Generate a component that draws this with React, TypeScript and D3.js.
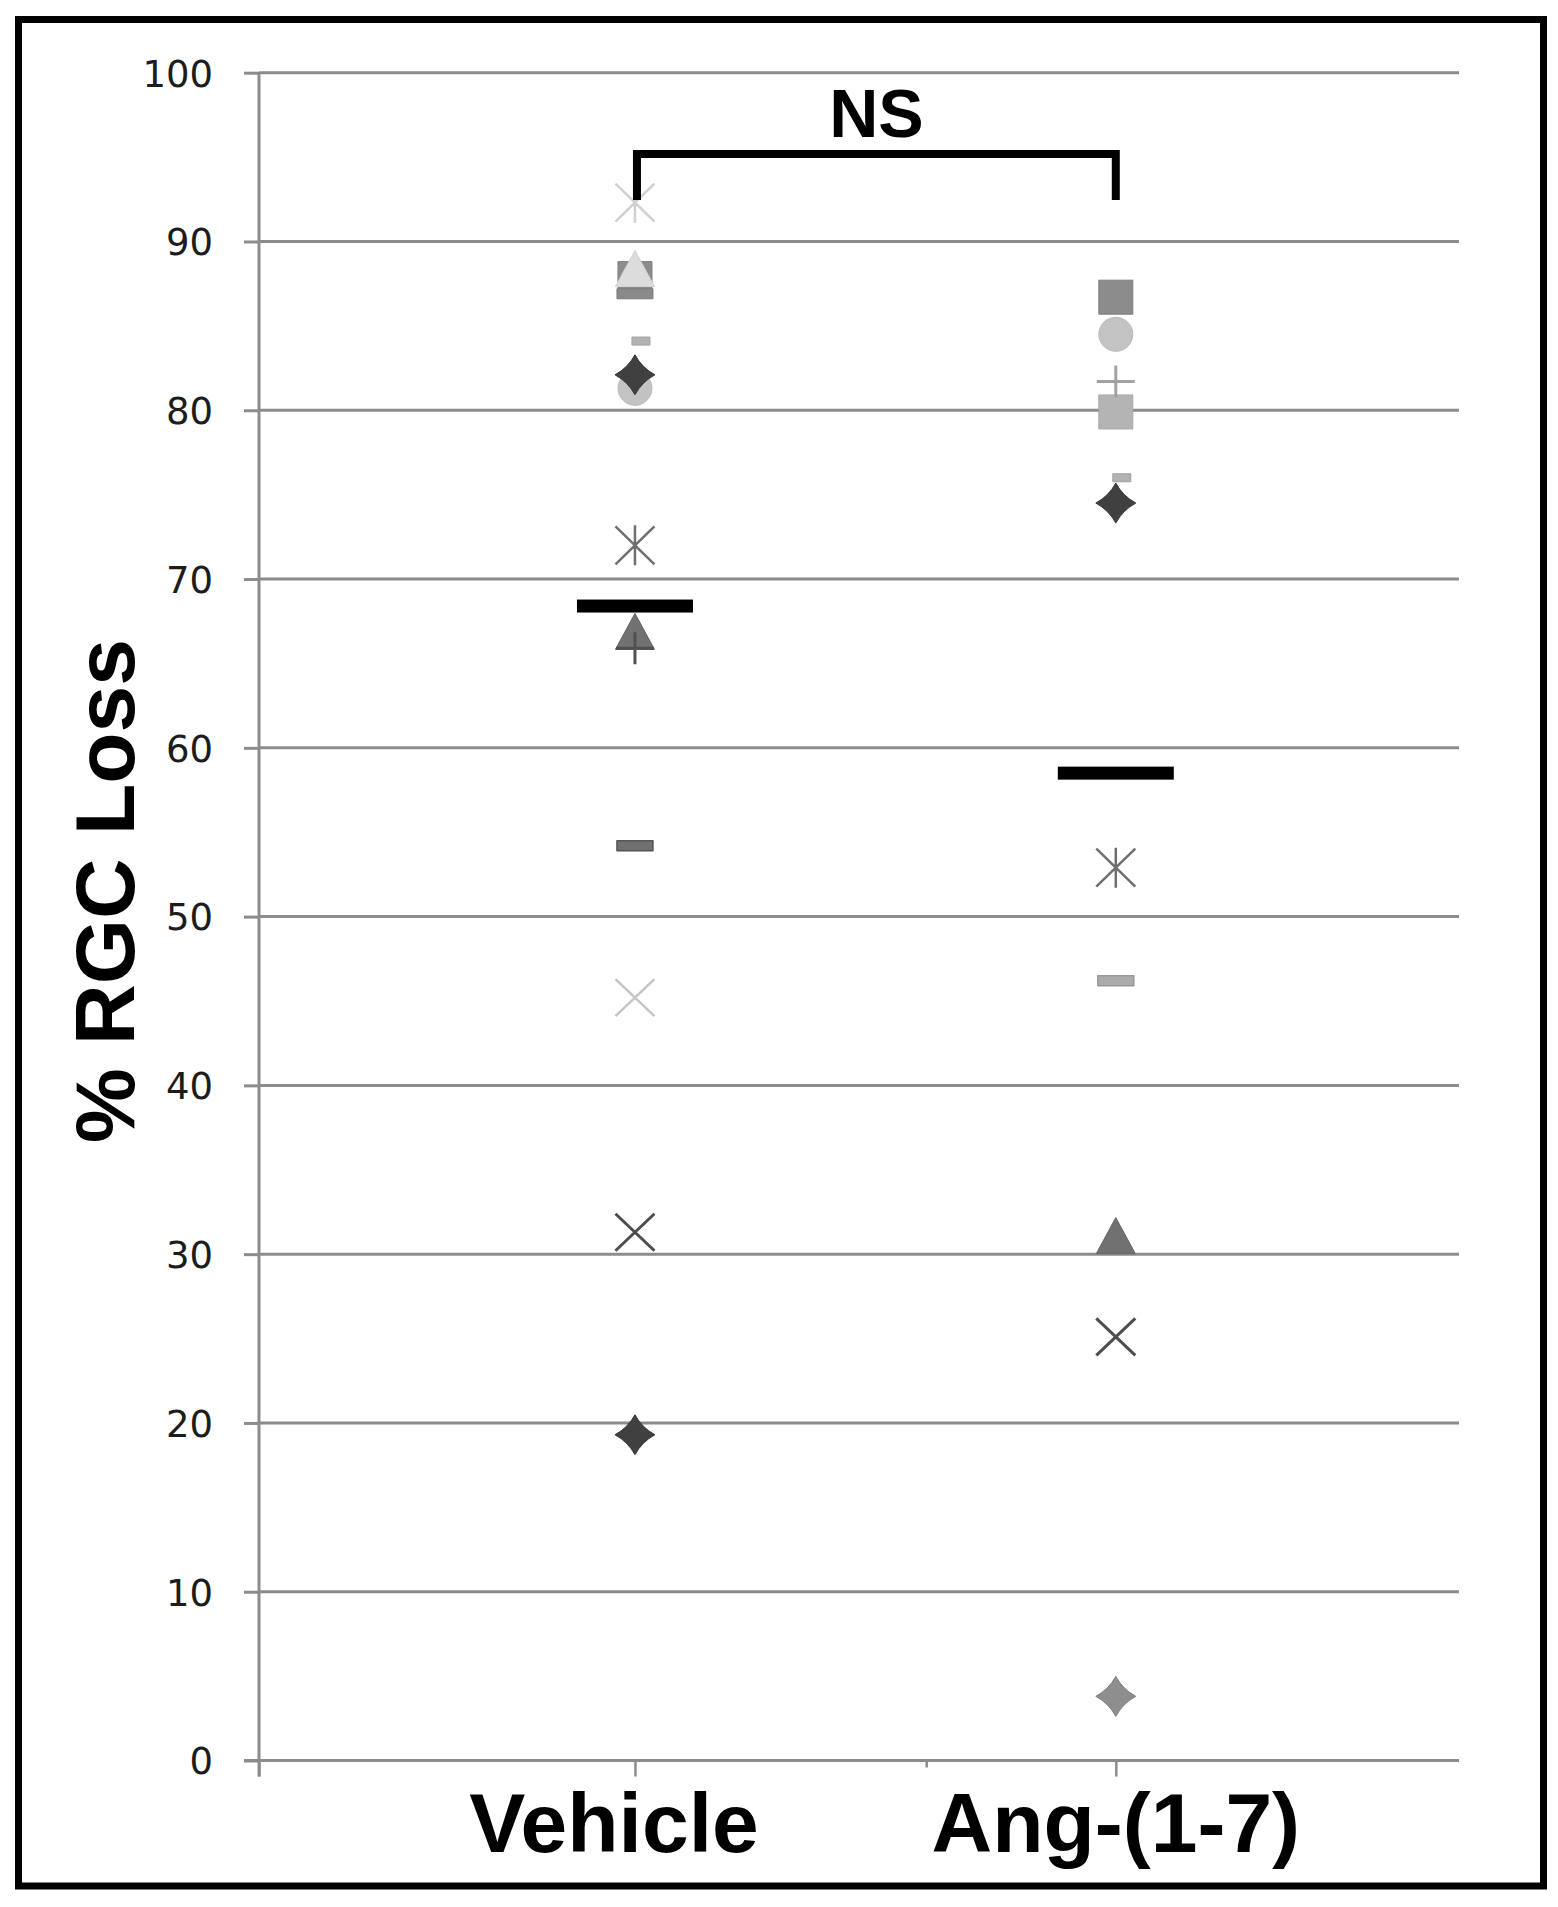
import { useEffect, useRef } from "react";
import * as d3 from "d3";

// values (% RGC loss per eye)
const groups = ["Vehicle", "Ang-(1-7)"];
const yTicks = [0, 10, 20, 30, 40, 50, 60, 70, 80, 90, 100];

const vehicleValues = [19.3, 31.3, 45.2, 54.2, 66.9, 65.9, 72.0, 81.3, 82.1, 84.1, 87.8, 88.4, 86.9, 92.3];
const vehicleMarkers = [
  "diamondDark", "xDark", "xLight", "dashDark", "triangleDark", "plusDark", "asteriskMid",
  "circleLight", "diamondDark", "smallDash", "squareMid", "triangleLight", "dashMid", "asteriskLight",
];

const angValues = [3.8, 25.1, 31.1, 46.2, 52.9, 74.5, 76.0, 79.9, 81.7, 84.5, 86.7];
const angMarkers = [
  "diamondGray", "xDark", "triangleDark", "dashLight", "asteriskMid", "diamondDark",
  "smallDash", "squareLight", "plusLight", "circleLight", "squareMid",
];

const groupMeans = [68.4, 58.5];
const sigLabel = "NS";

type Style = { shape: string; fill?: string; stroke?: string; sw?: number };
const markerStyles: Record<string, Style> = {
  diamondDark: { shape: "diamond", fill: "#404040", stroke: "#383838", sw: 1 },
  diamondGray: { shape: "diamond", fill: "#8e8e8e", stroke: "#808080", sw: 1 },
  squareMid: { shape: "square", fill: "#8c8c8c", stroke: "#7e7e7e", sw: 1 },
  squareLight: { shape: "square", fill: "#b4b4b4", stroke: "#a8a8a8", sw: 1 },
  circleLight: { shape: "circle", fill: "#c3c3c3", stroke: "#bbbbbb", sw: 1 },
  triangleLight: { shape: "triangle", fill: "#dcdcdc", stroke: "#d2d2d2", sw: 1 },
  triangleDark: { shape: "triangle", fill: "#717171", stroke: "#666666", sw: 1 },
  asteriskLight: { shape: "asterisk", stroke: "#d0d0d0", sw: 2.5 },
  asteriskMid: { shape: "asterisk", stroke: "#6e6e6e", sw: 2.5 },
  xLight: { shape: "x", stroke: "#c6c6c6", sw: 2.5 },
  xDark: { shape: "x", stroke: "#4e4e4e", sw: 3 },
  plusDark: { shape: "plus", stroke: "#505050", sw: 3 },
  plusLight: { shape: "plus", stroke: "#a2a2a2", sw: 3 },
  dashDark: { shape: "dash", fill: "#707070", stroke: "#555555", sw: 1.5 },
  dashMid: { shape: "dash", fill: "#8a8a8a", stroke: "#7a7a7a", sw: 1 },
  dashLight: { shape: "dash", fill: "#ababab", stroke: "#999999", sw: 1.5 },
  smallDash: { shape: "smallDash", fill: "#b2b2b2", stroke: "#a0a0a0", sw: 1 },
};

const shapePaths: Record<string, string> = {
  diamond: "M0,-20 Q7,-7 20,0 Q7,7 0,20 Q-7,7 -20,0 Q-7,-7 0,-20Z",
  square: "M-17,-17 H17 V17 H-17Z",
  triangle: "M0,-18 L19.5,18 L-19.5,18Z",
  asterisk: "M-19.5,-19 L19.5,19 M-19.5,19 L19.5,-19 M0,-20 V20",
  x: "M-19.5,-18.5 L19.5,18.5 M-19.5,18.5 L19.5,-18.5",
  plus: "M-19,0 H19 M0,-16 V16",
  dash: "M-18,-5 H18 V5 H-18Z",
  smallDash: "M-3,-4 H15 V4 H-3Z",
};

const W = 1558;
const H = 1907;

export default function App() {
  const svgRef = useRef<SVGSVGElement>(null);

  useEffect(() => {
    const svg = d3.select(svgRef.current);
    svg.selectAll("*").remove();

    const plotLeft = 259;
    const plotRight = 1459;
    const y = d3.scaleLinear().domain([0, 100]).range([1760.5, 72.7]);
    const x = d3.scaleLinear().domain([0, 1]).range([plotLeft, plotRight]);
    const catX = d3.scaleOrdinal<string, number>().domain(groups).range([x(0.3133), x(0.714)]);

    svg.append("rect").attr("width", W).attr("height", H).attr("fill", "#fff");

    // outer frame
    svg
      .append("rect")
      .attr("x", 18.5)
      .attr("y", 19.5)
      .attr("width", 1525)
      .attr("height", 1866.5)
      .attr("fill", "none")
      .attr("stroke", "#000")
      .attr("stroke-width", 7);

    // gridlines
    svg
      .append("g")
      .selectAll("line")
      .data(yTicks.filter((d) => d > 0))
      .enter()
      .append("line")
      .attr("x1", plotLeft)
      .attr("x2", plotRight)
      .attr("y1", (d) => y(d))
      .attr("y2", (d) => y(d))
      .attr("stroke", "#8c8c8c")
      .attr("stroke-width", 3);

    // y axis
    const yAxis = svg
      .append("g")
      .attr("transform", `translate(${plotLeft},0)`)
      .call(d3.axisLeft(y).tickValues(yTicks).tickSize(15).tickPadding(31).tickSizeOuter(0));
    yAxis.select(".domain").attr("stroke", "#8c8c8c").attr("stroke-width", 3)
      .attr("d", `M0,${y(100)}V${y(0) + 16}`);
    yAxis.selectAll(".tick line").attr("stroke", "#8c8c8c").attr("stroke-width", 3);
    yAxis
      .selectAll(".tick text")
      .attr("fill", "#1c1c1c")
      .attr("font-family", "'DejaVu Sans', Verdana, sans-serif")
      .attr("font-size", 37)
      .attr("dy", "0.36em");

    // x axis
    const xTickPos = [0, 0.3133, 0.556, 0.714];
    const xAxis = svg
      .append("g")
      .attr("transform", `translate(0,${y(0)})`)
      .call(d3.axisBottom(x).tickValues(xTickPos).tickSize(16).tickFormat(() => "").tickSizeOuter(0));
    xAxis.select(".domain").attr("stroke", "#8c8c8c").attr("stroke-width", 3)
      .attr("d", `M${plotLeft - 15},0H${plotRight}`);
    xAxis.selectAll(".tick line")
      .attr("stroke", "#8c8c8c")
      .attr("stroke-width", 2.5)
      .attr("y2", (d) => ((d as number) === 0.556 ? 7 : 16));

    // category labels
    const labelShift = [-21, 0];
    svg
      .append("g")
      .selectAll("text")
      .data(groups)
      .enter()
      .append("text")
      .attr("x", (d, i) => catX(d) + labelShift[i])
      .attr("y", 1852)
      .attr("text-anchor", "middle")
      .attr("font-family", "'Liberation Sans', Arial, sans-serif")
      .attr("font-weight", "bold")
      .attr("font-size", 84)
      .attr("fill", "#000")
      .text((d) => d);

    // y title
    svg
      .append("text")
      .attr("transform", `translate(134,891) rotate(-90)`)
      .attr("text-anchor", "middle")
      .attr("font-family", "'Liberation Sans', Arial, sans-serif")
      .attr("font-weight", "bold")
      .attr("font-size", 84)
      .attr("fill", "#000")
      .text("% RGC Loss");

    // points
    const series = [
      { group: groups[0], values: vehicleValues, markers: vehicleMarkers },
      { group: groups[1], values: angValues, markers: angMarkers },
    ];
    series.forEach((s) => {
      const g = svg.append("g");
      s.values.forEach((v, i) => {
        const st = markerStyles[s.markers[i]];
        const t = `translate(${catX(s.group)},${y(v)})`;
        if (st.shape === "circle") {
          g.append("circle")
            .attr("transform", t)
            .attr("r", 17)
            .attr("fill", st.fill!)
            .attr("stroke", st.stroke!)
            .attr("stroke-width", st.sw!);
        } else {
          g.append("path")
            .attr("transform", t)
            .attr("d", shapePaths[st.shape])
            .attr("fill", st.fill ?? "none")
            .attr("stroke", st.stroke ?? "none")
            .attr("stroke-width", st.sw ?? 1)
            .attr("stroke-linejoin", "round");
        }
      });
    });

    // mean bars
    svg
      .append("g")
      .selectAll("rect")
      .data(groupMeans)
      .enter()
      .append("rect")
      .attr("x", (d, i) => catX(groups[i]) - 58)
      .attr("y", (d) => y(d) - 6.5)
      .attr("width", 116)
      .attr("height", 13)
      .attr("fill", "#000");

    // significance bracket
    const bx1 = catX(groups[0]) + 2;
    const bx2 = catX(groups[1]);
    svg
      .append("path")
      .attr("d", `M${bx1},200 V154 H${bx2} V200`)
      .attr("fill", "none")
      .attr("stroke", "#000")
      .attr("stroke-width", 8);
    svg
      .append("text")
      .attr("x", (bx1 + bx2) / 2)
      .attr("y", 137)
      .attr("text-anchor", "middle")
      .attr("font-family", "'Liberation Sans', Arial, sans-serif")
      .attr("font-weight", "bold")
      .attr("font-size", 68)
      .attr("fill", "#000")
      .text(sigLabel);
  }, []);

  return (
    <svg
      ref={svgRef}
      width={W}
      height={H}
      style={{ position: "absolute", left: 0, top: 0, display: "block" }}
    ></svg>
  );
}
